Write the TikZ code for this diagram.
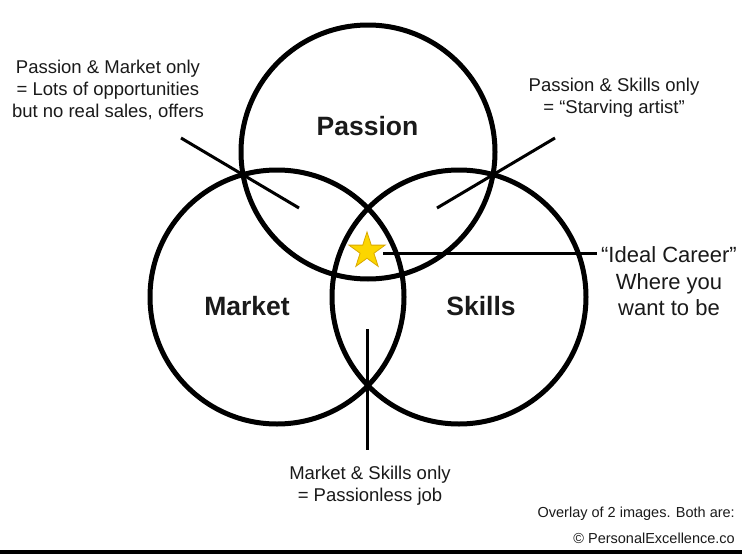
\documentclass[tikz,border=0pt]{standalone}
\usepackage{fontspec}
\setmainfont{Liberation Sans}
\usetikzlibrary{shapes.geometric}
\definecolor{ink}{HTML}{1A1A1A}
\definecolor{staryellow}{HTML}{FCD600}
\definecolor{staredge}{HTML}{D9A800}
\begin{document}
\begin{tikzpicture}[x=1pt,y=-1pt,
  venn/.style={circle, draw=black, line width=5pt, minimum size=254pt, inner sep=0pt},
  title/.style={font=\fontsize{26.5}{30}\selectfont\bfseries, text=ink, anchor=base, inner sep=0pt},
  note/.style={font=\fontsize{18.5}{22}\selectfont, text=ink, align=center, inner sep=0pt},
  leader/.style={line width=3pt, draw=black},
]
\useasboundingbox (0,0) rectangle (742,554);
\fill[white] (0,0) rectangle (742,554);
% circles
\node[venn] (passion) at (368,152) {};
\node[venn] (market) at (277,297) {};
\node[venn] (skills) at (459,297) {};
% titles
\node[title] (tpassion) at (367.5,135) {Passion};
\node[title] (tmarket) at (247,315) {Market};
\node[title] (tskills) at (481,315) {Skills};
% notes
\node[note] (pm) at (108,90) {Passion \& Market only\\= Lots of opportunities\\but no real sales, offers};
\node[note] (ps) at (614,98) {Passion \& Skills only\\= “Starving artist”};
\node[note, font=\fontsize{22}{26.5}\selectfont] (ideal) at (669,281.5) {“Ideal Career”\\Where you\\want to be};
\node[note] (ms) at (370,486) {Market \& Skills only\\= Passionless job};
\node[note, align=right, anchor=east, font=\fontsize{14.5}{26}\selectfont] (credit) at (735,525) {Overlay of 2 images. Both are:\\© PersonalExcellence.co};
% leader end points
\coordinate (pm1) at (181,138); \coordinate (pm2) at (299,208);
\coordinate (ps1) at (555,138); \coordinate (ps2) at (437,208);
\coordinate (ms1) at (367,329); \coordinate (ms2) at (367,450);
\coordinate (ic1) at (383,253); \coordinate (ic2) at (597,253);
\draw[leader] (pm1) -- (pm2);
\draw[leader] (ps1) -- (ps2);
\draw[leader] (ms1) -- (ms2);
\draw[leader] (ic1) -- (ic2);
% star
\node[star, star points=5, star point ratio=2.618, minimum size=38pt, inner sep=0pt, fill=staryellow, draw=staredge, line width=0.8pt] (star) at (367,251) {};
% bottom rule
\fill[black] (0,550) rectangle (742,554);
\end{tikzpicture}
\end{document}
